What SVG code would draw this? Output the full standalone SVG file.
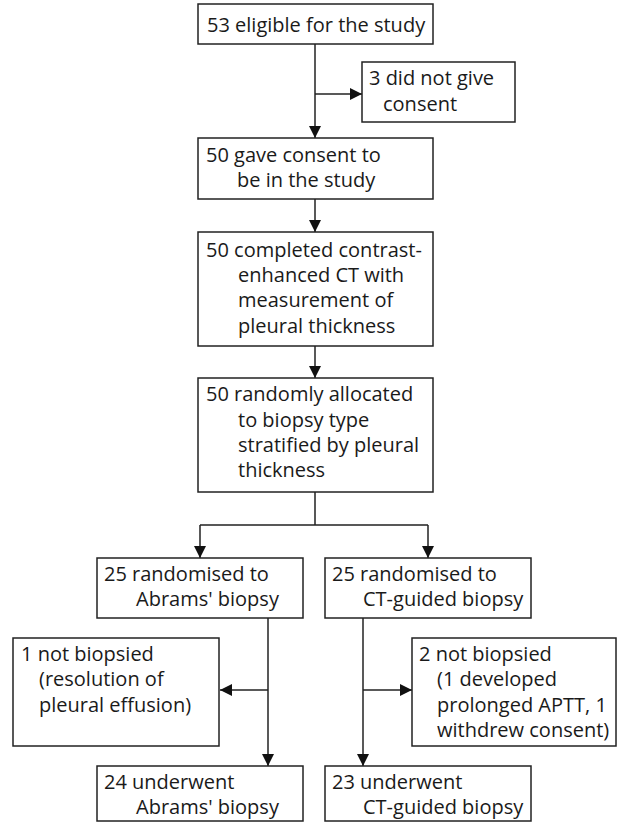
<svg xmlns="http://www.w3.org/2000/svg" width="618" height="823" viewBox="0 0 618 823">
<style>
.box{fill:#fff;stroke:#222;stroke-width:1.5}
.t{font-family:"Open Sans","Liberation Sans",sans-serif;font-size:20px;fill:#1a1a1a}
.c{fill:none;stroke:#222;stroke-width:1.5}
.a{marker-end:url(#arr)}
</style>
<defs>
<marker id="arr" viewBox="0 0 12 12" refX="12" refY="6" markerWidth="12" markerHeight="12" markerUnits="userSpaceOnUse" orient="auto">
<path d="M0,0 L12,6 L0,12 z" fill="#111"/>
</marker>
</defs>
<rect width="618" height="823" fill="#fff"/>
<g id="connectors">
<path class="c a" d="M315,44 V138"/>
<path class="c a" d="M315,94 H362"/>
<path class="c a" d="M315,199 V232"/>
<path class="c a" d="M315,346 V378"/>
<path class="c" d="M315,492 V525 M200,525 H428"/>
<path class="c a" d="M200,525 V558"/>
<path class="c a" d="M428,525 V558"/>
<path class="c a" d="M268,618 V766"/>
<path class="c a" d="M268,690 H220"/>
<path class="c a" d="M363,618 V766"/>
<path class="c a" d="M363,690 H412"/>
</g>
<g id="n1"><rect class="box" x="198" y="4" width="235" height="40"/>
<text class="t" x="207" y="32">53 eligible for the study</text></g>
<g id="n2"><rect class="box" x="362" y="62" width="153" height="60"/>
<text class="t" x="369" y="85">3 did not give</text>
<text class="t" x="383" y="111">consent</text></g>
<g id="n3"><rect class="box" x="198" y="138" width="235" height="61"/>
<text class="t" x="206" y="162">50 gave consent to</text>
<text class="t" x="237" y="187">be in the study</text></g>
<g id="n4"><rect class="box" x="198" y="232" width="235" height="114"/>
<text class="t" x="206" y="257">50 completed contrast-</text>
<text class="t" x="238" y="282">enhanced CT with</text>
<text class="t" x="238" y="307">measurement of</text>
<text class="t" x="238" y="333">pleural thickness</text></g>
<g id="n5"><rect class="box" x="198" y="378" width="235" height="114"/>
<text class="t" x="206" y="401">50 randomly allocated</text>
<text class="t" x="238" y="427">to biopsy type</text>
<text class="t" x="238" y="452">stratified by pleural</text>
<text class="t" x="238" y="477">thickness</text></g>
<g id="n6"><rect class="box" x="97" y="558" width="206" height="60"/>
<text class="t" x="104" y="581">25 randomised to</text>
<text class="t" x="136" y="606">Abrams' biopsy</text></g>
<g id="n7"><rect class="box" x="325" y="558" width="206" height="60"/>
<text class="t" x="332" y="581">25 randomised to</text>
<text class="t" x="363" y="606">CT-guided biopsy</text></g>
<g id="n8"><rect class="box" x="13" y="638" width="206" height="108"/>
<text class="t" x="21" y="661">1 not biopsied</text>
<text class="t" x="39" y="686">(resolution of</text>
<text class="t" x="39" y="712">pleural effusion)</text></g>
<g id="n9"><rect class="box" x="412" y="638" width="204" height="108"/>
<text class="t" x="419" y="661">2 not biopsied</text>
<text class="t" x="437" y="686">(1 developed</text>
<text class="t" x="437" y="712">prolonged APTT, 1</text>
<text class="t" x="437" y="737">withdrew consent)</text></g>
<g id="n10"><rect class="box" x="97" y="766" width="206" height="55"/>
<text class="t" x="104" y="789">24 underwent</text>
<text class="t" x="136" y="814">Abrams' biopsy</text></g>
<g id="n11"><rect class="box" x="325" y="766" width="206" height="55"/>
<text class="t" x="332" y="789">23 underwent</text>
<text class="t" x="363" y="814">CT-guided biopsy</text></g>
</svg>
